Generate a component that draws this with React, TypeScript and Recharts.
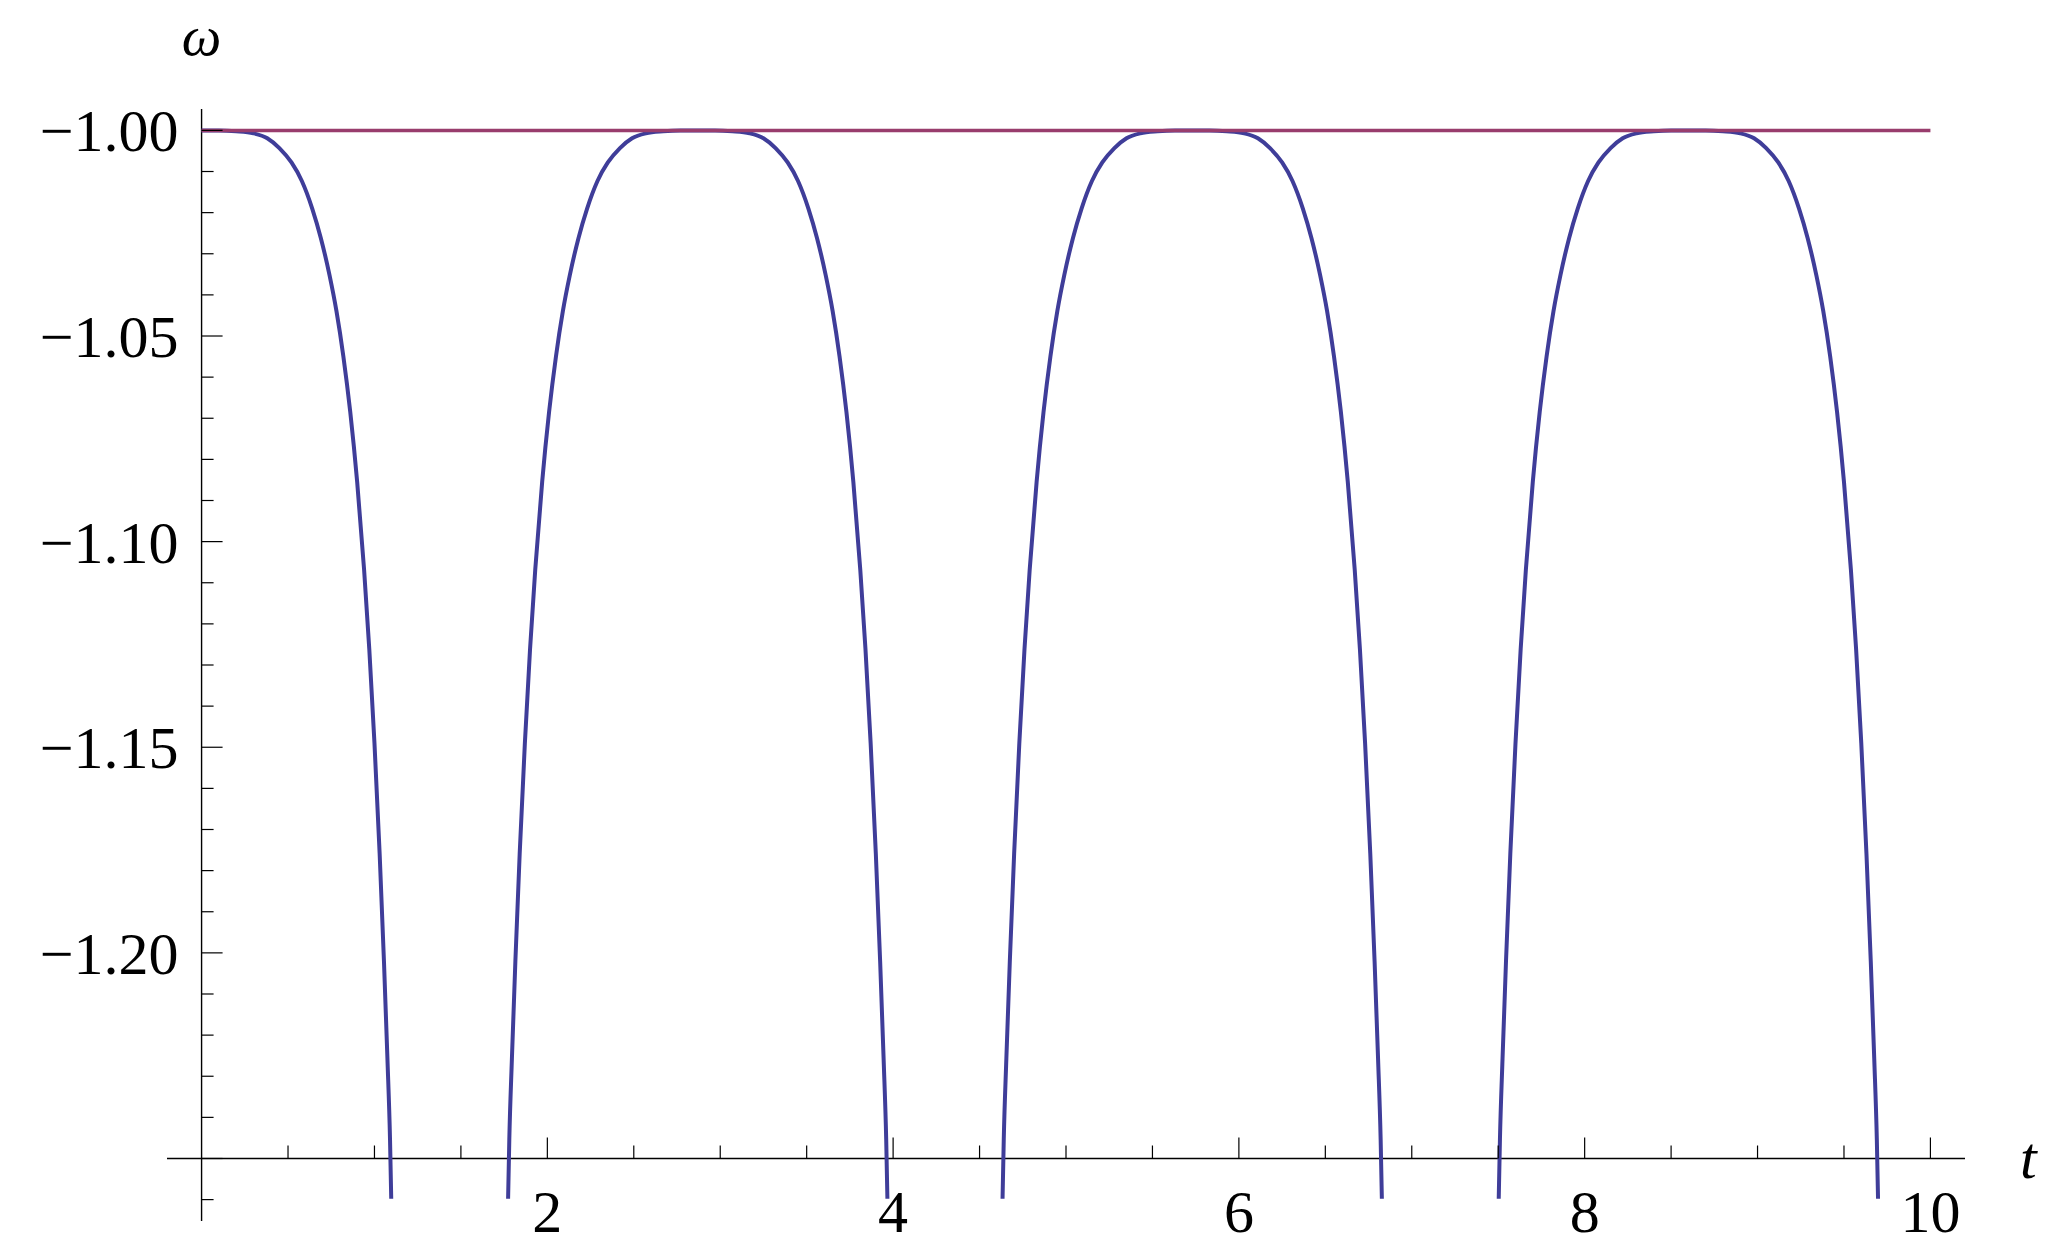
import { LineChart, Line, XAxis, YAxis, ReferenceLine, Customized } from 'recharts';

// omega(t), one arch per array (the curve leaves the range below -1.26)
const tArch0 = [0, 0.1, 0.2, 0.3, 0.38, 0.45, 0.52, 0.58, 0.64, 0.69, 0.74, 0.78, 0.82, 0.86, 0.9, 0.94, 0.97, 1.0, 1.03, 1.055, 1.075, 1.09, 1.097];
const wArch0 = [-1.0, -1.0, -1.0002, -1.0007, -1.0019, -1.0043, -1.0078, -1.0123, -1.019, -1.0262, -1.0352, -1.0439, -1.0549, -1.0685, -1.0855, -1.1068, -1.1261, -1.149, -1.1759, -1.2021, -1.2257, -1.2454, -1.2598];

const tArch1 = [1.773, 1.78, 1.795, 1.815, 1.84, 1.87, 1.9, 1.93, 1.97, 2.01, 2.05, 2.09, 2.13, 2.18, 2.23, 2.29, 2.35, 2.42, 2.49, 2.57, 2.67, 2.77, 2.87,
  2.97, 3.07, 3.17, 3.25, 3.32, 3.39, 3.45, 3.51, 3.56, 3.61, 3.65, 3.69, 3.73, 3.77, 3.81, 3.84, 3.87, 3.9, 3.925, 3.945, 3.96, 3.967];
const wArch1 = [-1.2598, -1.2454, -1.2257, -1.2021, -1.1759, -1.149, -1.1261, -1.1068, -1.0855, -1.0685, -1.0549, -1.0439, -1.0352, -1.0262, -1.019, -1.0123, -1.0078, -1.0043, -1.0019, -1.0007, -1.0002, -1.0, -1.0,
  -1.0, -1.0002, -1.0007, -1.0019, -1.0043, -1.0078, -1.0123, -1.019, -1.0262, -1.0352, -1.0439, -1.0549, -1.0685, -1.0855, -1.1068, -1.1261, -1.149, -1.1759, -1.2021, -1.2257, -1.2454, -1.2598];

const tArch2 = [4.633, 4.64, 4.655, 4.675, 4.7, 4.73, 4.76, 4.79, 4.83, 4.87, 4.91, 4.95, 4.99, 5.04, 5.09, 5.15, 5.21, 5.28, 5.35, 5.43, 5.53, 5.63, 5.73,
  5.83, 5.93, 6.03, 6.11, 6.18, 6.25, 6.31, 6.37, 6.42, 6.47, 6.51, 6.55, 6.59, 6.63, 6.67, 6.7, 6.73, 6.76, 6.785, 6.805, 6.82, 6.827];
const wArch2 = [-1.2598, -1.2454, -1.2257, -1.2021, -1.1759, -1.149, -1.1261, -1.1068, -1.0855, -1.0685, -1.0549, -1.0439, -1.0352, -1.0262, -1.019, -1.0123, -1.0078, -1.0043, -1.0019, -1.0007, -1.0002, -1.0, -1.0,
  -1.0, -1.0002, -1.0007, -1.0019, -1.0043, -1.0078, -1.0123, -1.019, -1.0262, -1.0352, -1.0439, -1.0549, -1.0685, -1.0855, -1.1068, -1.1261, -1.149, -1.1759, -1.2021, -1.2257, -1.2454, -1.2598];

const tArch3 = [7.503, 7.51, 7.525, 7.545, 7.57, 7.6, 7.63, 7.66, 7.7, 7.74, 7.78, 7.82, 7.86, 7.91, 7.96, 8.02, 8.08, 8.15, 8.22, 8.3, 8.4, 8.5, 8.6,
  8.7, 8.8, 8.9, 8.98, 9.05, 9.12, 9.18, 9.24, 9.29, 9.34, 9.38, 9.42, 9.46, 9.5, 9.54, 9.57, 9.6, 9.63, 9.655, 9.675, 9.69, 9.697];
const wArch3 = [-1.2598, -1.2454, -1.2257, -1.2021, -1.1759, -1.149, -1.1261, -1.1068, -1.0855, -1.0685, -1.0549, -1.0439, -1.0352, -1.0262, -1.019, -1.0123, -1.0078, -1.0043, -1.0019, -1.0007, -1.0002, -1.0, -1.0,
  -1.0, -1.0002, -1.0007, -1.0019, -1.0043, -1.0078, -1.0123, -1.019, -1.0262, -1.0352, -1.0439, -1.0549, -1.0685, -1.0855, -1.1068, -1.1261, -1.149, -1.1759, -1.2021, -1.2257, -1.2454, -1.2598];

// the flat line omega = -1
const tFlat = [0, 10];
const wFlat = [-1, -1];

const xTicks = [0.5, 1, 1.5, 2, 2.5, 3, 3.5, 4, 4.5, 5, 5.5, 6, 6.5, 7, 7.5, 8, 8.5, 9, 9.5, 10];
const xMajor = [2, 4, 6, 8, 10];
const xLabels = ['2', '4', '6', '8', '10'];

const yTicks = [-1.0, -1.01, -1.02, -1.03, -1.04, -1.05, -1.06, -1.07, -1.08, -1.09, -1.1, -1.11, -1.12, -1.13,
  -1.14, -1.15, -1.16, -1.17, -1.18, -1.19, -1.2, -1.21, -1.22, -1.23, -1.24, -1.25, -1.26];
const yMajor = [-1.0, -1.05, -1.1, -1.15, -1.2, -1.25];
const yLabels = ['\u22121.00', '\u22121.05', '\u22121.10', '\u22121.15', '\u22121.20', ''];

const W = 2048;
const H = 1243;
const Y_AXIS_W = 60;
const X_AXIS_H = 30;
const MARGIN = { top: 101, right: 91, bottom: 0, left: 99 };
const X_DOMAIN = [-0.2, 10.2];
const Y_DOMAIN = [-1.2652, -0.9948];
const X_AXIS_AT = -1.25;

const PLOT_LEFT = MARGIN.left + Y_AXIS_W;
const PLOT_W = W - PLOT_LEFT - MARGIN.right;
const PLOT_H = H - MARGIN.top - MARGIN.bottom - X_AXIS_H;
const ORIGIN_X = PLOT_LEFT + ((0 - X_DOMAIN[0]) / (X_DOMAIN[1] - X_DOMAIN[0])) * PLOT_W;
const AXIS_Y = MARGIN.top + ((Y_DOMAIN[1] - X_AXIS_AT) / (Y_DOMAIN[1] - Y_DOMAIN[0])) * PLOT_H;

const FONT = '"Liberation Serif", "Times New Roman", serif';
const BLUE = '#3f3d99';
const MAGENTA = '#993d6d';

const toPoints = (ts: number[], ws: number[]) => ts.map((t, i) => ({ t, w: ws[i] }));

const arches = [
  toPoints(tArch0, wArch0),
  toPoints(tArch1, wArch1),
  toPoints(tArch2, wArch2),
  toPoints(tArch3, wArch3),
];
const flatData = toPoints(tFlat, wFlat);

const findIndex = (list: number[], v: number) => list.findIndex((m) => Math.abs(m - v) < 1e-6);

const renderXTick = (props: any) => {
  const { x, payload } = props;
  const idx = findIndex(xMajor, payload.value);
  const len = idx >= 0 ? 21 : 13;
  return (
    <g key={`xt-${payload.value}`}>
      <line x1={x} x2={x} y1={AXIS_Y} y2={AXIS_Y - len} stroke="#000" strokeWidth={1.2} />
      {idx >= 0 && (
        <text x={x} y={AXIS_Y + 74} textAnchor="middle" fontFamily={FONT} fontSize={60} fill="#000">
          {xLabels[idx]}
        </text>
      )}
    </g>
  );
};

const renderYTick = (props: any) => {
  const { y, payload } = props;
  const idx = findIndex(yMajor, payload.value);
  const len = idx >= 0 ? 21 : 12;
  return (
    <g key={`yt-${payload.value}`}>
      <line x1={ORIGIN_X} x2={ORIGIN_X + len} y1={y} y2={y} stroke="#000" strokeWidth={1.2} />
      {idx >= 0 && yLabels[idx] && (
        <text x={ORIGIN_X - 23} y={y + 21} textAnchor="end" fontFamily={FONT} fontSize={60} fill="#000">
          {yLabels[idx]}
        </text>
      )}
    </g>
  );
};

const AxisNames = () => (
  <g>
    <text x={ORIGIN_X} y={47} textAnchor="middle" fontFamily={FONT} fontStyle="italic" fontSize={56} fill="#000">
      ω
    </text>
    <text x={2012} y={1170} textAnchor="start" fontFamily={FONT} fontStyle="italic" fontSize={60} fill="#000">
      t
    </text>
  </g>
);

export default function App() {
  return (
    <LineChart width={W} height={H} margin={MARGIN}>
      <XAxis
        dataKey="t"
        type="number"
        domain={X_DOMAIN}
        allowDataOverflow
        ticks={xTicks}
        interval={0}
        height={X_AXIS_H}
        axisLine={false}
        tickLine={false}
        tick={renderXTick}
      />
      <YAxis
        type="number"
        domain={Y_DOMAIN}
        allowDataOverflow
        ticks={yTicks}
        interval={0}
        width={Y_AXIS_W}
        axisLine={false}
        tickLine={false}
        tick={renderYTick}
      />
      <ReferenceLine x={0} stroke="#000" strokeWidth={1.4} />
      <ReferenceLine y={X_AXIS_AT} stroke="#000" strokeWidth={1.4} />
      {arches.map((data, i) => (
        <Line
          key={i}
          data={data}
          dataKey="w"
          type="monotone"
          stroke={BLUE}
          strokeWidth={4}
          dot={false}
          activeDot={false}
          isAnimationActive={false}
        />
      ))}
      <Line
        data={flatData}
        dataKey="w"
        type="linear"
        stroke={MAGENTA}
        strokeWidth={3.5}
        dot={false}
        activeDot={false}
        isAnimationActive={false}
      />
      <Customized component={AxisNames} />
    </LineChart>
  );
}
